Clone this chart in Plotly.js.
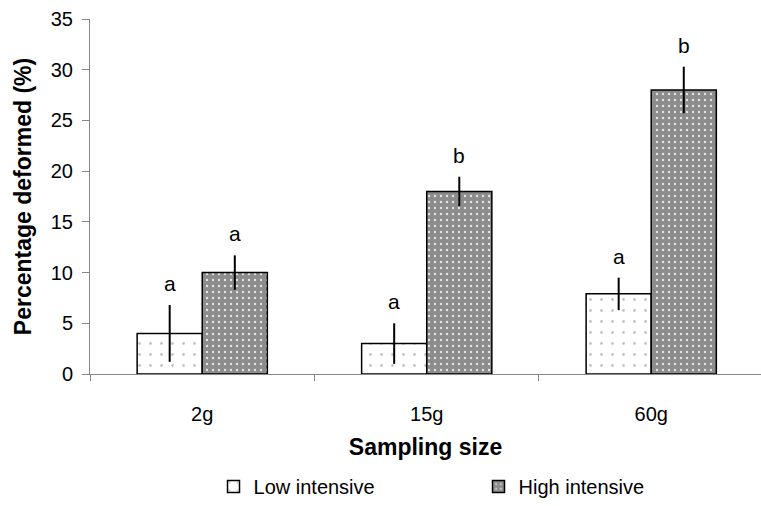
<!DOCTYPE html>
<html>
<head>
<meta charset="utf-8">
<script src="https://cdn.plot.ly/plotly-3.0.1.min.js"></script>
<style>html,body{margin:0;padding:0;background:#fff}#chart{width:761px;height:506px}</style>
</head>
<body>
<div id="chart"></div>
<script>
const categories = ["2g", "15g", "60g"];
const lowValues = [4.0, 3.0, 7.9];
const lowErrors = [2.8, 2.0, 1.6];
const lowLetters = ["a", "a", "a"];
const highValues = [10.0, 18.0, 28.0];
const highErrors = [1.7, 1.45, 2.3];
const highLetters = ["a", "b", "b"];
const yTicks = [0, 5, 10, 15, 20, 25, 30, 35];

const FONT = "Liberation Sans, Arial, sans-serif";
const bargap = 0.42;
const half = (1 - bargap) / 4;

const traces = [
  {
    type: "bar", name: "Low intensive", x: categories, y: lowValues,
    marker: {color: "#ffffff", line: {color: "#000", width: 1.5},
      pattern: {shape: ".", bgcolor: "#ffffff", fgcolor: "#c4c4c4", size: 11, solidity: 0.05}},
    error_y: {type: "data", array: lowErrors, visible: true, color: "#000", thickness: 2, width: 0}
  },
  {
    type: "bar", name: "High intensive", x: categories, y: highValues,
    marker: {color: "#8c8c8c", line: {color: "#000", width: 1.5},
      pattern: {shape: ".", bgcolor: "#8c8c8c", fgcolor: "#e6e6e6", size: 6, solidity: 0.12}},
    error_y: {type: "data", array: highErrors, visible: true, color: "#000", thickness: 2, width: 0}
  }
];

const annotations = [];
categories.forEach((c, i) => {
  annotations.push({x: i - half, y: lowValues[i] + lowErrors[i], xref: "x", yref: "y",
    text: lowLetters[i], showarrow: false, yanchor: "bottom", yshift: 8,
    font: {family: FONT, size: 21, color: "#000"}});
  annotations.push({x: i + half, y: highValues[i] + highErrors[i], xref: "x", yref: "y",
    text: highLetters[i], showarrow: false, yanchor: "bottom", yshift: 8,
    font: {family: FONT, size: 21, color: "#000"}});
});

const layout = {
  width: 761, height: 506,
  margin: {l: 90, r: 0, t: 19, b: 132},
  paper_bgcolor: "#fff", plot_bgcolor: "#fff",
  font: {family: FONT, size: 20, color: "#000"},
  barmode: "group", bargap: bargap, bargroupgap: 0,
  showlegend: true,
  legend: {orientation: "h", x: 0.579, xanchor: "center", y: -0.318, yanchor: "middle",
    font: {family: FONT, size: 20, color: "#000"}, entrywidth: 220, traceorder: "normal"},
  xaxis: {
    type: "category", range: [-0.5, 2.489], showline: true, linecolor: "#868686", linewidth: 1,
    ticks: "outside", tickson: "boundaries", ticklen: 6, tickcolor: "#868686",
    ticklabelstandoff: 22, showgrid: false, zeroline: false,
    tickfont: {family: FONT, size: 20, color: "#000"},
    title: {text: "<b>Sampling size</b>", font: {family: FONT, size: 23, color: "#000"}, standoff: 14}
  },
  yaxis: {
    range: [0, 35], tickvals: yTicks, showline: true, linecolor: "#868686", linewidth: 1,
    ticks: "outside", ticklen: 7, tickcolor: "#868686", ticklabelstandoff: 5,
    showgrid: false, zeroline: false,
    tickfont: {family: FONT, size: 20, color: "#000"},
    title: {text: "<b>Percentage deformed (%)</b>", font: {family: FONT, size: 23, color: "#000"}, standoff: 12}
  },
  annotations: annotations
};

Plotly.newPlot("chart", traces, layout, {displayModeBar: false, staticPlot: true});
</script>
</body>
</html>
